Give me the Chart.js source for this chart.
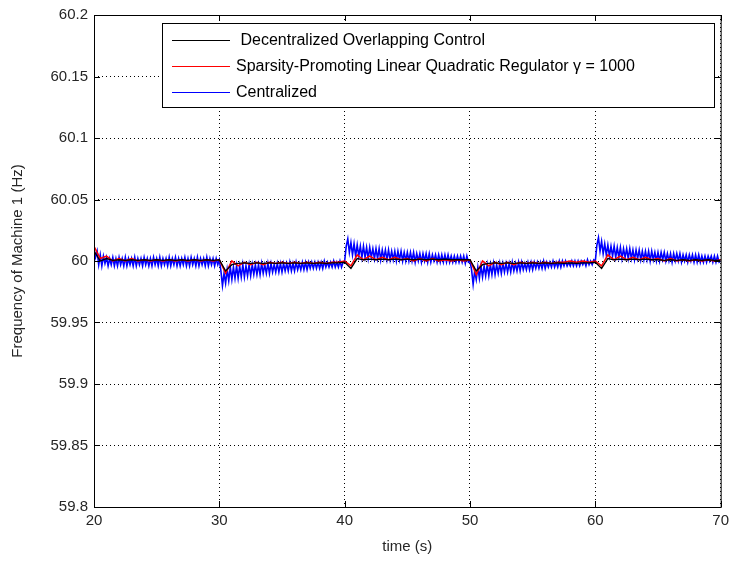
<!DOCTYPE html>
<html>
<head>
<meta charset="utf-8">
<script src="https://cdn.jsdelivr.net/npm/chart.js@4"></script>
<style>
  html, body { margin:0; padding:0; background:#fff; }
  #wrap { width:734px; height:565px; }
</style>
</head>
<body>
<div id="wrap"><canvas id="freq" width="734" height="565"></canvas></div>
<script>
// sampling grid (s)
const startTime = 20;
const blueStep = 0.125;
const lineStep = 0.5;

// frequency deviation from 60 Hz, in mHz
const centralizedDev = [
  // 20 - 30 s
  10,3,8,-3,5,-4,4,-2,3,-4,  2,-3,3,-4,2,-4,3,-3,2,-4,
  3,-4,2,-3,2,-4,3,-4,2,-3,  2,-4,3,-3,2,-4,2,-4,3,-3,
  2,-4,3,-4,2,-3,2,-4,3,-4,  2,-3,3,-4,2,-4,2,-3,3,-4,
  2,-4,3,-3,2,-4,3,-4,2,-3,  2,-4,3,-4,2,-3,2,-4,2,-3,
  // 30 - 40 s
  1,-8,-20,-10,-18,-7,-16,-5,-15,-5,  -14,-4,-14,-4,-13,-3,-13,-4,-12,-3,
  -12,-3,-11,-3,-11,-3,-11,-2,-10,-3,  -10,-2,-10,-2,-9,-3,-9,-2,-9,-2,
  -9,-2,-8,-2,-8,-1,-8,-2,-8,-1,  -7,-2,-7,-1,-7,-1,-7,-1,-6,-1,
  -6,-1,-6,-1,-6,-1,-6,0,-5,-1,  -5,-1,-5,0,-5,-1,-5,0,-5,-1,
  // 40 - 50 s
  0,12,18,7,15,5,14,4,13,4,  12,3,12,3,11,2,11,3,10,2,
  10,2,10,1,9,2,9,1,9,1,  8,1,8,0,8,1,8,0,7,0,
  7,0,7,0,7,-1,6,0,6,-1,  6,0,6,-1,6,-1,5,0,5,-1,
  5,-1,5,-1,5,-1,5,-1,4,-1,  4,-1,4,-1,4,-1,4,-2,4,-1,
  // 50 - 60 s
  0,-7,-19,-8,-15,-5,-14,-4,-13,-4,  -12,-3,-12,-3,-11,-2,-11,-3,-10,-2,
  -10,-2,-9,-2,-9,-2,-9,-1,-8,-2,  -8,-1,-8,-1,-7,-2,-7,-1,-7,-1,
  -7,-1,-6,-1,-6,-1,-6,0,-6,-1,  -5,-1,-5,0,-5,-1,-5,0,-5,0,
  -4,0,-4,-1,-4,0,-4,0,-4,0,  -4,0,-3,0,-4,1,-3,0,-3,1,
  // 60 - 70 s
  0,13,19,8,16,6,14,5,13,4,  12,4,12,3,11,3,11,2,10,3,
  10,2,10,2,9,1,9,2,9,1,  8,1,8,1,8,0,8,1,7,0,
  7,0,7,1,7,0,6,0,6,-1,  6,0,6,0,6,-1,5,0,5,-1,
  5,0,5,-1,5,-1,5,-1,4,-1,  4,-1,4,0,4,-1,4,-1,4,-1,
  0
];
const sparsityDev = [
  12,2,4,0,2,0,2,0,1,0, 1,0,1,0,1,0,1,0,1,0,
  1,-10,0,-4,-1,-3,-1,-3,-1,-2, -1,-2,-1,-2,-1,-2,-1,-2,-1,-1,
  0,-4,5,1,4,1,3,1,3,1, 2,0,2,0,2,0,1,0,1,0,
  1,-11,0,-4,-1,-3,-1,-3,-1,-2, -1,-2,-1,-2,-1,-1,0,-1,0,-1,
  0,-4,5,1,4,1,3,1,3,1, 2,0,2,0,1,0,1,0,1,0,
  1
];
const overlappingDev = [
  8,0,2,0.5,1,0.5,1,0.5,1,0.5, 1,0.5,1,0.5,1,0.5,1,0.5,1,0.5,
  1,-8,-3,-2,-1.5,-2,-1.5,-2,-1.5,-2, -1.5,-2,-1.5,-2,-1.5,-2,-1.5,-2,-1.5,-1.5,
  -1,-6,2,1,1.5,1,1.5,1,1.5,1, 1.5,1,1.5,1,1.5,1,1.5,1,1,1,
  1,-8,-3,-2,-1.5,-2,-1.5,-2,-1.5,-2, -1.5,-2,-1.5,-2,-1.5,-2,-1.5,-2,-1.5,-1.5,
  -1,-6,2,1,1.5,1,1.5,1,1.5,1, 1,0.5,1,0.5,1,0.5,1,0.5,1,0.5,
  0.5
];

const xTicks = [20, 30, 40, 50, 60, 70];
const yTicks = [59.8, 59.85, 59.9, 59.95, 60, 60.05, 60.1, 60.15, 60.2];
const seriesLabels = [
  ' Decentralized Overlapping Control',
  'Sparsity-Promoting Linear Quadratic Regulator \u03b3 = 1000',
  'Centralized'
];
const seriesColors = ['#000000', '#ff0000', '#0000ff'];
const seriesWidths = [1.3, 1.5, 1.6];

const toPoints = (dev, step) => dev.map((d, i) => ({ x: startTime + i * step, y: 60 + d / 1000 }));

const FONT = '"Liberation Sans", Arial, sans-serif';

// MATLAB-like frame, inward ticks, axis titles and boxed legend
const matlabFrame = {
  id: 'matlabFrame',
  afterDraw(chart) {
    const { ctx, chartArea: a, scales: { x, y } } = chart;
    ctx.save();
    ctx.strokeStyle = '#000';
    ctx.lineWidth = 1;
    ctx.strokeRect(a.left + 0.5, a.top + 0.5, a.right - a.left, a.bottom - a.top);
    ctx.beginPath();
    xTicks.forEach(t => {
      const px = Math.round(x.getPixelForValue(t)) + 0.5;
      ctx.moveTo(px, a.bottom); ctx.lineTo(px, a.bottom - 6);
      ctx.moveTo(px, a.top); ctx.lineTo(px, a.top + 6);
    });
    yTicks.forEach(t => {
      const py = Math.round(y.getPixelForValue(t)) + 0.5;
      ctx.moveTo(a.left, py); ctx.lineTo(a.left + 6, py);
      ctx.moveTo(a.right, py); ctx.lineTo(a.right - 6, py);
    });
    ctx.stroke();

    // axis titles
    ctx.fillStyle = '#262626';
    ctx.font = '15px ' + FONT;
    ctx.textAlign = 'center';
    ctx.textBaseline = 'middle';
    ctx.fillText('time (s)', (a.left + a.right) / 2, 547);
    ctx.translate(18, (a.top + a.bottom) / 2);
    ctx.rotate(-Math.PI / 2);
    ctx.fillText('Frequency of Machine 1 (Hz)', 0, 0);
    ctx.restore();

    // legend
    ctx.save();
    const lx = 162, ly = 23, lw = 552, lh = 84;
    ctx.fillStyle = '#fff';
    ctx.fillRect(lx, ly, lw, lh);
    ctx.strokeStyle = '#000';
    ctx.lineWidth = 1;
    ctx.strokeRect(lx + 0.5, ly + 0.5, lw, lh);
    ctx.font = '16px ' + FONT;
    ctx.textAlign = 'left';
    ctx.textBaseline = 'middle';
    const rows = [40, 66, 92];
    seriesLabels.forEach((lab, i) => {
      ctx.strokeStyle = seriesColors[i];
      ctx.beginPath();
      ctx.moveTo(172, rows[i] + 0.5);
      ctx.lineTo(230, rows[i] + 0.5);
      ctx.stroke();
      ctx.fillStyle = '#000';
      ctx.fillText(lab, 236, rows[i] + 1);
    });
    ctx.restore();
  }
};

new Chart(document.getElementById('freq'), {
  type: 'line',
  data: {
    datasets: [
      { label: seriesLabels[0], data: toPoints(overlappingDev, lineStep) },
      { label: seriesLabels[1], data: toPoints(sparsityDev, lineStep) },
      { label: seriesLabels[2], data: toPoints(centralizedDev, blueStep) }
    ].map((d, i) => Object.assign(d, {
      borderColor: seriesColors[i], borderWidth: seriesWidths[i],
      pointRadius: 0, tension: 0, fill: false
    }))
  },
  options: {
    responsive: false,
    animation: false,
    layout: { padding: { top: 14, right: 11, left: 0, bottom: 0 } },
    plugins: { legend: { display: false }, tooltip: { enabled: false } },
    scales: {
      x: {
        type: 'linear', min: 20, max: 70,
        afterBuildTicks: s => { s.ticks = xTicks.map(v => ({ value: v })); },
        afterFit: s => { s.height = 58; },
        border: { display: false, dash: [1, 3] },
        grid: { color: '#000', lineWidth: 1, drawTicks: false },
        ticks: { color: '#262626', font: { family: FONT, size: 15 }, padding: 5, maxRotation: 0 }
      },
      y: {
        min: 59.8, max: 60.2,
        afterBuildTicks: s => { s.ticks = yTicks.map(v => ({ value: v })); },
        afterFit: s => { s.width = 94; },
        border: { display: false, dash: [1, 3] },
        grid: { color: '#000', lineWidth: 1, drawTicks: false },
        ticks: { color: '#262626', font: { family: FONT, size: 15 }, padding: 6,
                 callback: v => String(+v.toFixed(2)) }
      }
    }
  },
  plugins: [matlabFrame]
});
</script>
</body>
</html>
